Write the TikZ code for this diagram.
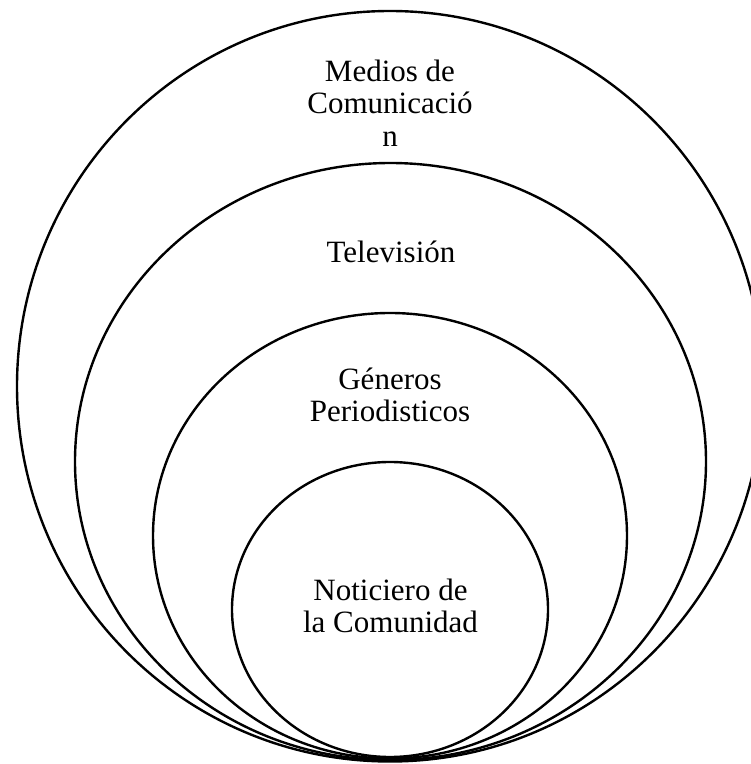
\documentclass[tikz,border=0pt]{standalone}
\usepackage{fontspec}
\setmainfont{Liberation Serif}
\tikzset{
  ring/.style={draw=black, line width=2.4pt},
  lbl/.style={align=center, anchor=base, inner sep=0pt,
    font=\fontsize{31}{32.5}\selectfont}
}
\begin{document}
\begin{tikzpicture}[x=1pt,y=1pt]
\useasboundingbox (0,0) rectangle (751,764);
% y_tikz = 764 - y_img
\draw[ring] (390,377.75) ellipse [x radius=373, y radius=375.25];
\draw[ring] (390.5,302.5) ellipse [x radius=315.5, y radius=298.5];
\draw[ring] (390,228.25) ellipse [x radius=237, y radius=222.75];
\draw[ring] (390,154.5) ellipse [x radius=158, y radius=147.5];
\node[lbl] (medios) at (390,617.5) {Medios de\\Comunicació\\n};
\node[lbl] (tv) at (391,501) {Televisión};
\node[lbl] (generos) at (390,342) {Géneros\\Periodisticos};
\node[lbl] (noticiero) at (390.5,131) {Noticiero de\\la Comunidad};
\end{tikzpicture}
\end{document}
